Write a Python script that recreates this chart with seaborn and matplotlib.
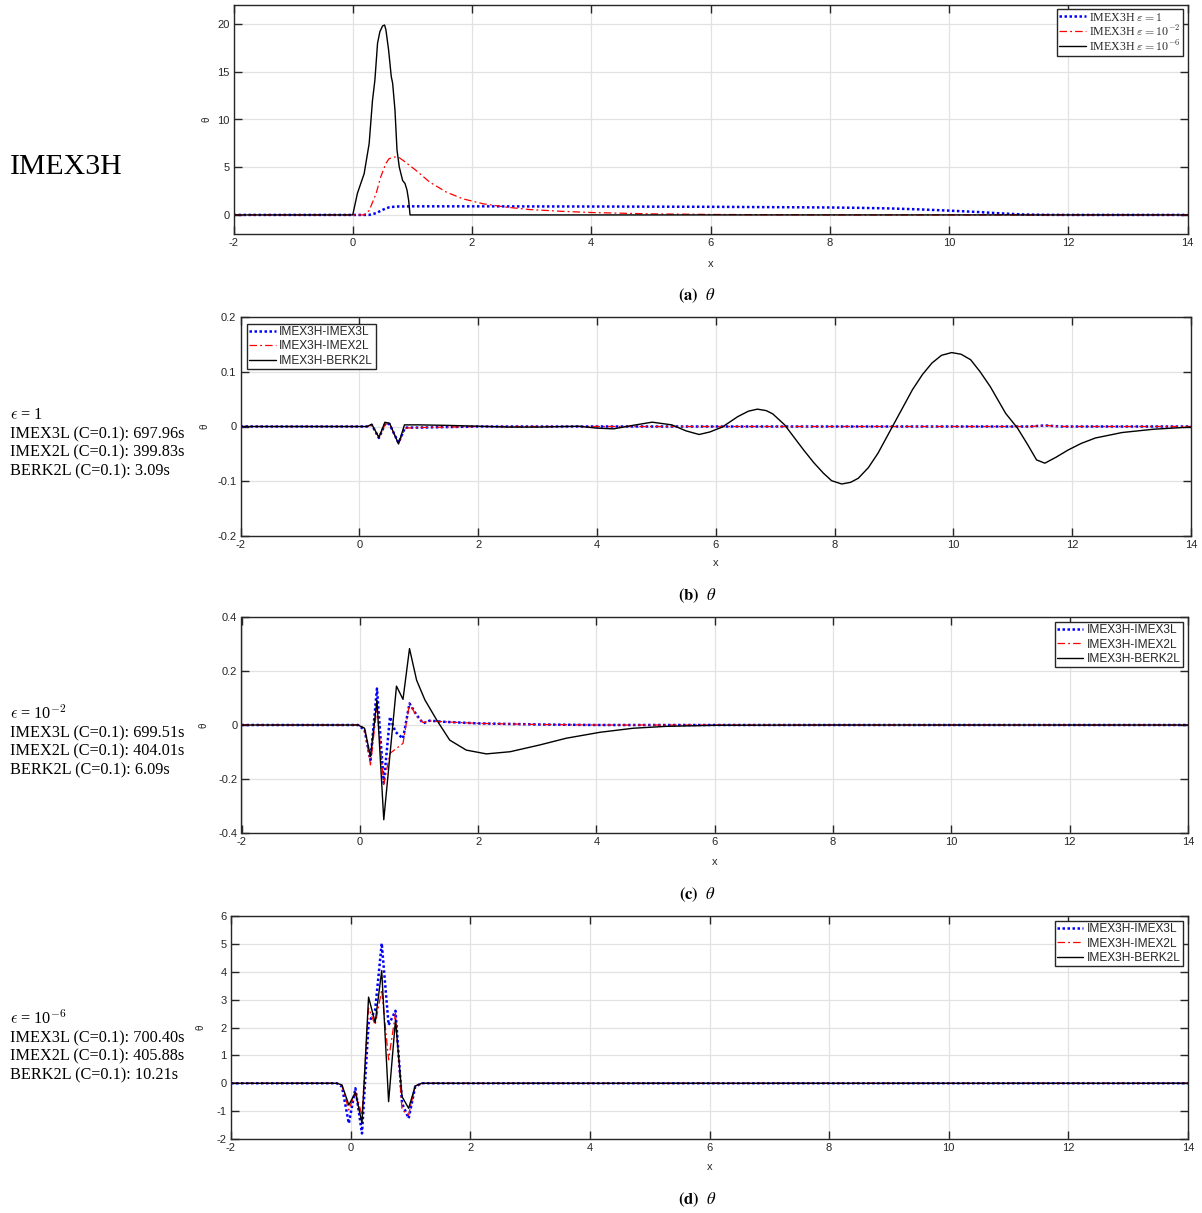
import matplotlib
matplotlib.use("Agg")
import matplotlib.pyplot as plt
import seaborn as sns
from matplotlib.font_manager import FontProperties

# ---------------- data ----------------
x_ticks = [-2, 0, 2, 4, 6, 8, 10, 12, 14]

# panel (a): IMEX3H solutions
xa_e1 = [-2, 0.275, 0.39, 0.5, 0.61, 0.725, 1.0, 2.0, 4.0, 6.0, 8.0, 8.5, 9.0, 9.5, 10.0, 10.5, 10.84, 11.23, 11.6, 12.0, 14]
ya_e1 = [0, 0, 0.18, 0.53, 0.8, 0.88, 0.9, 0.9, 0.88, 0.85, 0.78, 0.74, 0.68, 0.58, 0.45, 0.3, 0.17, 0.05, 0.01, 0, 0]
xa_e2 = [-2, 0.19, 0.275, 0.39, 0.47, 0.556, 0.61, 0.70, 0.78, 0.89, 1.06, 1.29, 1.57, 1.85, 2.19, 2.58, 2.97, 3.5, 4.0, 5.0, 6.0, 7.0, 8.0, 14]
ya_e2 = [0, 0, 0.46, 2.2, 4.0, 5.4, 5.9, 6.07, 6.0, 5.5, 4.67, 3.44, 2.39, 1.68, 1.16, 0.81, 0.56, 0.38, 0.25, 0.11, 0.05, 0.02, 0.0, 0]
xa_e6 = [-2, 0.0, 0.079, 0.191, 0.275, 0.331, 0.371, 0.416, 0.455, 0.5, 0.534, 0.556, 0.601, 0.646, 0.669, 0.708, 0.742, 0.781, 0.837, 0.876, 0.91, 0.938, 0.961, 14]
ya_e6 = [0, 0, 2.28, 4.32, 7.47, 12.0, 14.1, 18.0, 19.2, 19.8, 19.9, 19.4, 17.3, 14.5, 13.8, 11.0, 6.8, 5.0, 3.6, 3.3, 2.6, 1.5, 0, 0]
labels_a = [r"IMEX3H $\varepsilon = 1$", r"IMEX3H $\varepsilon = 10^{-2}$", r"IMEX3H $\varepsilon = 10^{-6}$"]

# panel (b): eps = 1 differences
xb_bl = [-2, 0.13, 0.21, 0.33, 0.44, 0.51, 0.66, 0.77, 1.0, 1.5, 2.0, 11.3, 11.54, 11.8, 14]
yb_bl = [0, 0, 0.003, -0.021, 0.006, 0.004, -0.030, -0.002, -0.002, -0.001, 0, 0, 0.002, 0, 0]
xb_rd = [-2, 0.13, 0.21, 0.33, 0.44, 0.51, 0.66, 0.77, 1.0, 1.5, 2.0, 11.3, 11.54, 11.8, 14]
yb_rd = [0, 0, 0.003, -0.020, 0.005, 0.004, -0.031, -0.003, -0.002, -0.001, 0, 0, 0.002, 0, 0]
xb_bk = [-2, 0.13, 0.21, 0.33, 0.43, 0.51, 0.66, 0.76, 1.0, 1.5, 2.0, 2.5, 3.0, 3.69, 4.0, 4.28, 4.6, 4.93, 5.26, 5.5, 5.72, 5.9, 6.11, 6.37, 6.55, 6.70, 6.85, 6.96, 7.16, 7.32, 7.48, 7.65, 7.81, 7.95, 8.12, 8.27, 8.40, 8.57, 8.73, 8.99, 9.15, 9.31, 9.48, 9.64, 9.80, 9.97, 10.13, 10.29, 10.45, 10.62, 10.88, 11.08, 11.25, 11.40, 11.54, 11.73, 11.93, 12.15, 12.39, 12.84, 13.37, 14.0]
yb_bk = [0, 0, 0.004, -0.020, 0.0077, 0.006, -0.032, 0.003, 0.003, 0.002, 0.0005, -0.001, -0.001, 0.0005, -0.003, -0.0043, 0.002, 0.0079, 0.003, -0.008, -0.0146, -0.010, -0.001, 0.018, 0.028, 0.0317, 0.029, 0.023, 0.003, -0.020, -0.043, -0.066, -0.085, -0.099, -0.105, -0.102, -0.0945, -0.075, -0.049, 0.003, 0.035, 0.067, 0.095, 0.116, 0.130, 0.135, 0.132, 0.122, 0.100, 0.073, 0.024, -0.003, -0.033, -0.061, -0.067, -0.056, -0.043, -0.031, -0.021, -0.011, -0.005, -0.001]

# panel (c): eps = 1e-2 differences
xc_bl = [-2, -0.03, 0.08, 0.18, 0.29, 0.405, 0.51, 0.60, 0.73, 0.84, 0.96, 1.07, 1.18, 1.41, 2.0, 3.0, 4.0, 14]
yc_bl = [0, 0, -0.018, -0.130, 0.135, -0.215, 0.030, -0.025, -0.050, 0.080, 0.037, 0.006, 0.016, 0.012, 0.006, 0.002, 0, 0]
xc_rd = [-2, -0.03, 0.08, 0.18, 0.29, 0.405, 0.51, 0.60, 0.73, 0.84, 0.96, 1.07, 1.18, 1.41, 2.0, 3.0, 4.0, 14]
yc_rd = [0, 0, -0.012, -0.148, 0.068, -0.220, -0.105, -0.090, -0.068, 0.080, 0.032, 0.009, 0.015, 0.012, 0.006, 0.002, 0, 0]
xc_bk = [-2, -0.03, 0.08, 0.18, 0.29, 0.405, 0.62, 0.73, 0.84, 0.96, 1.10, 1.30, 1.52, 1.80, 2.14, 2.54, 3.04, 3.49, 4.06, 4.62, 5.18, 6.03, 8.0, 14]
yc_bk = [0, 0, -0.012, -0.117, 0.092, -0.351, 0.144, 0.095, 0.283, 0.166, 0.093, 0.0185, -0.056, -0.093, -0.107, -0.099, -0.074, -0.049, -0.027, -0.012, -0.005, -0.001, 0, 0]

# panel (d): eps = 1e-6 differences
xd = [-2, -0.23, -0.145, -0.03, 0.08, 0.19, 0.30, 0.41, 0.52, 0.635, 0.75, 0.86, 0.97, 1.08, 1.19, 14]
yd_bl = [0, 0, -0.12, -1.44, -0.18, -1.80, 2.15, 2.63, 5.02, 2.09, 2.60, -0.72, -1.26, -0.12, 0, 0]
yd_rd = [0, 0, -0.08, -0.96, -0.30, -1.14, 2.70, 2.09, 3.35, 0.84, 2.50, -0.96, -1.14, -0.10, 0, 0]
yd_bk = [0, 0, -0.06, -0.78, -0.33, -1.43, 3.09, 2.18, 4.04, -0.66, 2.27, -0.48, -0.90, -0.10, 0, 0]

labels_diff = ["IMEX3H-IMEX3L", "IMEX3H-IMEX2L", "IMEX3H-BERK2L"]

side_b = [r"$\epsilon$ = 1", "IMEX3L (C=0.1): 697.96s", "IMEX2L (C=0.1): 399.83s", "BERK2L (C=0.1): 3.09s"]
side_c = [r"$\epsilon$ = 10$^{-2}$", "IMEX3L (C=0.1): 699.51s", "IMEX2L (C=0.1): 404.01s", "BERK2L (C=0.1): 6.09s"]
side_d = [r"$\epsilon$ = 10$^{-6}$", "IMEX3L (C=0.1): 700.40s", "IMEX2L (C=0.1): 405.88s", "BERK2L (C=0.1): 10.21s"]

# ---------------- figure ----------------
sns.set_style("ticks")
plt.rcParams["font.family"] = ["Liberation Sans", "DejaVu Sans"]
plt.rcParams["axes.unicode_minus"] = False

W, H = 1202, 1213
fig = plt.figure(figsize=(W / 100, H / 100), dpi=100)

DARK = "#262626"
BLUE = (0, 0, 1)
RED = (1, 0, 0)
DOT = (0, (1, 1))
DASHDOT = (0, (6, 2.5, 1.5, 2.5))


def px_axes(l, r, t, b):
    return fig.add_axes([l / W, 1 - b / H, (r - l) / W, (b - t) / H])


def style(ax, box, ylim, yticks, yticklabels, ylab_x, xlab_y):
    l, r, t, b = box
    ax.set_xlim(-2, 14)
    ax.set_ylim(*ylim)
    ax.set_xticks(x_ticks)
    ax.set_xticklabels([str(v) for v in x_ticks])
    ax.set_yticks(yticks)
    ax.set_yticklabels(yticklabels)
    ax.tick_params(direction="in", top=True, right=True, length=6, width=1,
                   colors=DARK, labelsize=8, pad=3)
    ax.grid(True, color="#e2e2e2", lw=0.9)
    ax.set_axisbelow(True)
    for s in ax.spines.values():
        s.set_color(DARK)
        s.set_linewidth(1.0)
    ax.set_xlabel("x", fontsize=8, color=DARK)
    ax.set_ylabel("θ", fontsize=7, color=DARK)
    ax.yaxis.set_label_coords((ylab_x - l) / (r - l), 0.5)
    ax.xaxis.set_label_coords(0.5, -(xlab_y - b) / (b - t))


def three_lines(ax, xs, ys, labels):
    sns.lineplot(x=xs[0], y=ys[0], ax=ax, color=BLUE, lw=1.8, linestyle=DOT,
                 label=labels[0], estimator=None, sort=False)
    sns.lineplot(x=xs[1], y=ys[1], ax=ax, color=RED, lw=0.9, linestyle=DASHDOT,
                 label=labels[1], estimator=None, sort=False)
    sns.lineplot(x=xs[2], y=ys[2], ax=ax, color="black", lw=1.0, linestyle="-",
                 label=labels[2], estimator=None, sort=False)


def legend(ax, loc, prop, pad, spacing):
    lg = ax.legend(loc=loc, frameon=True, fancybox=False, edgecolor=DARK,
                   framealpha=1, borderpad=0.2, labelspacing=spacing,
                   handlelength=2.2, handletextpad=0.3, borderaxespad=pad,
                   prop=prop)
    lg.get_frame().set_linewidth(1.0)


serif_leg = FontProperties(family="Liberation Serif", size=8.6, math_fontfamily="cm")
sans_leg = FontProperties(family="Liberation Sans", size=8.6)

# panel a
box_a = (233.5, 1187.5, 5, 234)
ax = px_axes(*box_a)
three_lines(ax, [xa_e1, xa_e2, xa_e6], [ya_e1, ya_e2, ya_e6], labels_a)
style(ax, box_a, (-2, 22), [0, 5, 10, 15, 20], ["0", "5", "10", "15", "20"], 211, 259)
legend(ax, "upper right", serif_leg, 0.35, 0.0)

# panel b
box_b = (240.5, 1191, 317, 536)
ax = px_axes(*box_b)
three_lines(ax, [xb_bl, xb_rd, xb_bk], [yb_bl, yb_rd, yb_bk], labels_diff)
style(ax, box_b, (-0.2, 0.2), [-0.2, -0.1, 0, 0.1, 0.2], ["-0.2", "-0.1", "0", "0.1", "0.2"], 209, 558)
legend(ax, "upper left", sans_leg, 0.55, 0.2)

# panel c
box_c = (241.5, 1188, 617, 833)
ax = px_axes(*box_c)
three_lines(ax, [xc_bl, xc_rd, xc_bk], [yc_bl, yc_rd, yc_bk], labels_diff)
style(ax, box_c, (-0.4, 0.4), [-0.4, -0.2, 0, 0.2, 0.4], ["-0.4", "-0.2", "0", "0.2", "0.4"], 209, 857)
legend(ax, "upper right", sans_leg, 0.4, 0.2)

# panel d
box_d = (231, 1188, 916, 1139)
ax = px_axes(*box_d)
three_lines(ax, [xd, xd, xd], [yd_bl, yd_rd, yd_bk], labels_diff)
style(ax, box_d, (-2, 6), list(range(-2, 7)), [str(v) for v in range(-2, 7)], 206, 1162)
legend(ax, "upper right", sans_leg, 0.4, 0.2)

# left side annotations
fig.text(10 / W, 1 - 167 / H, "IMEX3H", fontsize=21.5, family="Liberation Serif",
         ha="left", va="center", color="black")


def side(lines, ys):
    for txt, y in zip(lines, ys):
        fig.text(10 / W, 1 - y / H, txt, fontsize=11.7, family="Liberation Serif",
                 math_fontfamily="cm", ha="left", va="baseline", color="black")


side(side_b, [419, 438, 456, 475])
side(side_c, [719, 737, 755, 774])
side(side_d, [1024, 1042, 1060, 1079])

# captions
for cap, y in zip(["a", "b", "c", "d"], [296, 596, 895, 1200]):
    fig.text(697 / W, 1 - y / H, r"$\mathbf{(%s)}\ \ \theta$" % cap, fontsize=12,
             math_fontfamily="stix", ha="center", va="center", color="black")

fig.savefig("out.png", dpi=100)
